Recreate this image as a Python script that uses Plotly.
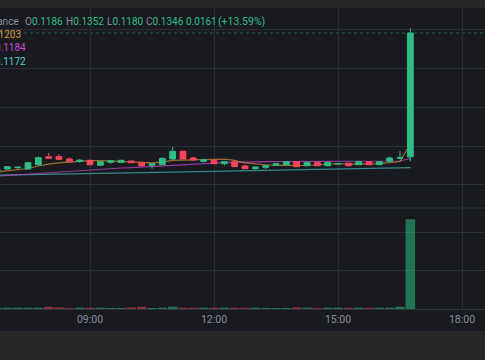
import plotly.graph_objects as go

# ---------------- data (15-minute candles) ----------------
day = "2024-01-15"
times = ["06:45", "07:00", "07:15", "07:30", "07:45", "08:00", "08:15", "08:30", "08:45",
         "09:00", "09:15", "09:30", "09:45", "10:00", "10:15", "10:30", "10:45",
         "11:00", "11:15", "11:30", "11:45", "12:00", "12:15", "12:30", "12:45",
         "13:00", "13:15", "13:30", "13:45", "14:00", "14:15", "14:30", "14:45",
         "15:00", "15:15", "15:30", "15:45", "16:00", "16:15", "16:30", "16:45"]

opens = [0.11673, 0.11703, 0.11720, 0.11703, 0.11758, 0.11862, 0.11862, 0.11832, 0.11802,
         0.11815, 0.11751, 0.11789, 0.11789, 0.11806, 0.11789, 0.11751, 0.11758,
         0.11832, 0.11932, 0.11845, 0.11802, 0.11815, 0.11771, 0.11797, 0.11742,
         0.11707, 0.11725, 0.11751, 0.11758, 0.11797, 0.11745, 0.11789, 0.11745,
         0.11768, 0.11777, 0.11758, 0.11797, 0.11758, 0.11802, 0.11842, 0.1186]
highs = [0.11712, 0.11742, 0.11738, 0.11790, 0.11867, 0.11910, 0.11897, 0.11854, 0.11828,
         0.11822, 0.11802, 0.11818, 0.11822, 0.11812, 0.11795, 0.11778, 0.11850,
         0.11987, 0.11940, 0.11862, 0.11836, 0.11820, 0.11802, 0.11802, 0.11758,
         0.11736, 0.11758, 0.11778, 0.11803, 0.11802, 0.11795, 0.11795, 0.11795,
         0.11782, 0.11782, 0.11810, 0.11802, 0.11803, 0.11862, 0.11935, 0.1352]
lows = [0.11665, 0.11695, 0.11700, 0.11698, 0.11750, 0.11833, 0.11819, 0.11790, 0.11784,
        0.11752, 0.11745, 0.11771, 0.11782, 0.11778, 0.11729, 0.11707, 0.11752,
        0.11826, 0.11826, 0.11812, 0.11784, 0.11765, 0.11751, 0.11727, 0.11700,
        0.11694, 0.11703, 0.11745, 0.11752, 0.11727, 0.11740, 0.11740, 0.11740,
        0.11762, 0.11738, 0.11752, 0.11752, 0.11752, 0.11796, 0.11830, 0.1180]
closes = [0.11703, 0.11733, 0.11726, 0.11784, 0.11849, 0.11841, 0.11828, 0.11797, 0.11815,
          0.11758, 0.11797, 0.11810, 0.11815, 0.11784, 0.11745, 0.11771, 0.11841,
          0.11932, 0.11832, 0.11819, 0.11823, 0.11771, 0.11797, 0.11733, 0.11707,
          0.11729, 0.11745, 0.11771, 0.11797, 0.11733, 0.11789, 0.11745, 0.11789,
          0.11774, 0.11745, 0.11797, 0.11758, 0.11797, 0.11845, 0.1185, 0.1346]
volumes_k = [30, 35, 35, 35, 35, 60, 44, 26, 35, 35, 35, 26, 26, 44, 60, 26, 35,
             60, 35, 35, 35, 35, 35, 35, 35, 35, 26, 26, 26, 44, 35, 26, 35,
             35, 35, 35, 35, 35, 35, 60, 2340]

ma7 = [0.11664, 0.11677, 0.11690, 0.11709, 0.11742, 0.11767, 0.11781, 0.11793, 0.11806,
       0.11810, 0.11812, 0.11807, 0.11803, 0.11797, 0.11789, 0.11783, 0.11795,
       0.11814, 0.11817, 0.11818, 0.11823, 0.11827, 0.11831, 0.11815, 0.11783,
       0.11768, 0.11758, 0.11750, 0.11754, 0.11745, 0.11753, 0.11758, 0.11767,
       0.11771, 0.11767, 0.11767, 0.11771, 0.11772, 0.11786, 0.11800, 0.1203]
ma25 = [0.11610, 0.11619, 0.11628, 0.11638, 0.11649, 0.11659, 0.11669, 0.11680, 0.11689,
        0.11696, 0.11704, 0.11711, 0.11716, 0.11721, 0.11727, 0.11734, 0.11742,
        0.11749, 0.11757, 0.11765, 0.11773, 0.11779, 0.11786, 0.11791, 0.11796,
        0.11797, 0.11798, 0.11798, 0.11799, 0.11799, 0.11800, 0.11801, 0.11801,
        0.11802, 0.11803, 0.11803, 0.11803, 0.11804, 0.11805, 0.11806, 0.1184]
ma99 = [0.11623, 0.11625, 0.11627, 0.11629, 0.11631, 0.11633, 0.11635, 0.11637, 0.11639,
        0.11641, 0.11643, 0.11645, 0.11647, 0.11649, 0.11652, 0.11655, 0.11658,
        0.11661, 0.11664, 0.11667, 0.11670, 0.11673, 0.11676, 0.11679, 0.11681,
        0.11683, 0.11686, 0.11688, 0.11691, 0.11693, 0.11696, 0.11698, 0.11701,
        0.11703, 0.11706, 0.11708, 0.11711, 0.11713, 0.11716, 0.11718, 0.1172]

legend_items = [("O", "0.1186"), ("H", "0.1352"), ("L", "0.1180"), ("C", "0.1346"), ("", "0.0161"), ("", "(+13.59%)")]
ma_labels = ["MA(7) 0.1203", "MA(25) 0.1184", "MA(99) 0.1172"]
tick_labels = ["09:00", "12:00", "15:00", "18:00"]

# ---------------- style ----------------
W, H = 485, 360
BG = "#181a20"
BAND = "#272727"
GRID = "#2a2e35"
TICK = "#848e9c"
UP = "#2ebd85"
DOWN = "#f6465d"
UP_VOL = "rgba(46,189,133,0.55)"
DOWN_VOL = "rgba(246,70,93,0.5)"
C_MA7, C_MA25, C_MA99 = "#d8923a", "#cc44d4", "#4fd0d3"
L_MA7, L_MA25, L_MA99 = "rgba(216,146,58,0.7)", "rgba(204,68,212,0.7)", "rgba(79,208,211,0.6)"
FONT = "Roboto"

x = [f"{day} {t}" for t in times]
vol_colors = [UP_VOL if c >= o else DOWN_VOL for o, c in zip(opens, closes)]


def py(px):
    return 1 - px / H


def pxx(px):
    return px / W


fig = go.Figure()
# moving averages on base price axis (drawn below candles)
for vals, col in [(ma99, L_MA99), (ma25, L_MA25), (ma7, L_MA7)]:
    fig.add_trace(go.Scatter(x=x, y=vals, mode="lines", line=dict(color=col, width=1.2),
                             xaxis="x", yaxis="y", hoverinfo="skip"))
# candles on overlaid axis so they are drawn above the MA lines
fig.add_trace(go.Candlestick(x=x, open=opens, high=highs, low=lows, close=closes,
                             xaxis="x", yaxis="y3",
                             increasing=dict(line=dict(color=UP, width=1), fillcolor=UP),
                             decreasing=dict(line=dict(color=DOWN, width=1), fillcolor=DOWN),
                             whiskerwidth=0))
fig.add_trace(go.Bar(x=x, y=volumes_k, marker=dict(color=vol_colors, line=dict(width=0)),
                     xaxis="x", yaxis="y2"))

price_range = [0.11199, 0.137829]
fig.update_layout(
    width=W, height=H, margin=dict(l=0, r=0, t=0, b=0),
    paper_bgcolor=BG, plot_bgcolor=BG, showlegend=False,
    boxgap=0.2, bargap=0.08,
    xaxis=dict(type="date", domain=[0, 1], anchor="y2",
               range=[f"{day} 06:49:21.3", f"{day} 18:33:23"],
               tickmode="array",
               tickvals=[f"{day} {t}" for t in tick_labels], ticktext=tick_labels,
               showgrid=True, gridcolor=GRID, gridwidth=1,
               showline=True, linecolor="#30343b", linewidth=1,
               ticks="", tickfont=dict(color=TICK, size=10.5, family=FONT),
               zeroline=False, rangeslider=dict(visible=False), fixedrange=True),
    yaxis=dict(domain=[py(208), py(8)], range=price_range, dtick=0.005, tick0=0,
               showticklabels=False, showgrid=True, gridcolor=GRID, zeroline=False),
    yaxis3=dict(overlaying="y", range=price_range, visible=False, showgrid=False),
    yaxis2=dict(domain=[py(309), py(208)], range=[0, 2630], dtick=1000, tick0=0,
                showticklabels=False, showgrid=True, gridcolor=GRID, zeroline=False),
)

shapes = [
    # last close price dotted line
    dict(type="line", xref="paper", yref="y", x0=0, x1=1, y0=closes[-1], y1=closes[-1],
         line=dict(color="rgba(46,189,133,0.45)", width=1, dash="dot"), layer="below"),
    # pane separator
    dict(type="line", xref="paper", yref="paper", x0=0, x1=1, y0=py(208), y1=py(208),
         line=dict(color=GRID, width=1)),
    # top toolbar band
    dict(type="rect", xref="paper", yref="paper", x0=0, x1=1, y0=py(8), y1=1,
         fillcolor=BAND, line=dict(width=0), layer="above"),
    # bottom band
    dict(type="rect", xref="paper", yref="paper", x0=0, x1=1, y0=0, y1=py(331),
         fillcolor=BAND, line=dict(width=0), layer="above"),
]
fig.update_layout(shapes=shapes)

ann = []
font_top = dict(family=FONT, size=10)
font_ma = dict(family=FONT, size=10)
# exchange label (clipped at the left edge)
ann.append(dict(x=pxx(21), y=py(21), xref="paper", yref="paper", xanchor="right", yanchor="middle",
                text="Binance", showarrow=False, font=dict(font_top, color=TICK)))
leg_x = [23, 64, 105, 144, 184, 216]
leg_size = [10, 10, 10, 10, 10, 10.5]
for (lab, val), lx, fs in zip(legend_items, leg_x, leg_size):
    t = (f"<span style='color:{TICK}'>{lab}</span>" if lab else "") + f"<span style='color:{UP}'>{val}</span>"
    ann.append(dict(x=pxx(lx), y=py(21), xref="paper", yref="paper", xanchor="left", yanchor="middle",
                    text=t, showarrow=False, font=dict(font_top, size=fs)))
for lab, col, rx, yy in zip(ma_labels, [C_MA7, C_MA25, C_MA99], [23, 28, 28], [34.5, 48, 61.5]):
    ann.append(dict(x=pxx(rx), y=py(yy), xref="paper", yref="paper", xanchor="right", yanchor="middle",
                    text=lab, showarrow=False, font=dict(font_ma, color=col)))
fig.update_layout(annotations=ann)

fig.write_html("out.html", config={"displayModeBar": False},
               post_script="document.body.style.margin='0';document.body.style.background='#181a20';")
